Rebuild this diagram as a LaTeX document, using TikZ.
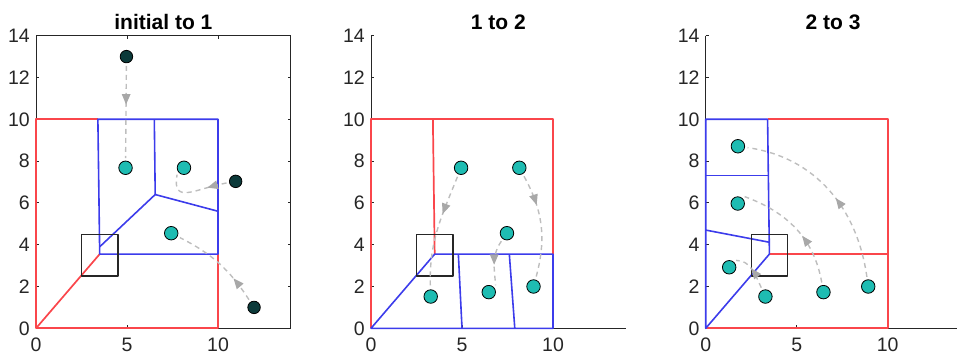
\documentclass[tikz,border=0pt]{standalone}
\usepackage{fontspec}
\setmainfont{Liberation Sans}
\usetikzlibrary{arrows.meta,decorations.markings}
\definecolor{axgray}{RGB}{38,38,38}
\definecolor{cellred}{RGB}{250,70,75}
\definecolor{cellblue}{RGB}{60,60,235}
\definecolor{dotcyan}{RGB}{30,188,178}
\definecolor{dotdark}{RGB}{12,58,58}
\definecolor{trailgray}{RGB}{190,190,190}
\definecolor{headgray}{RGB}{168,168,168}

\begin{document}
\begin{tikzpicture}[x=1pt,y=1pt,line join=round,
  ticklab/.style={font=\fontsize{19.5}{22}\selectfont,text=axgray,inner sep=0pt},
  ttl/.style={font=\fontsize{21}{24}\selectfont\bfseries,anchor=base,inner sep=0pt},
  axline/.style={axgray,line width=0.9pt},
  redcell/.style={cellred,line width=1.7pt},
  bluecell/.style={cellblue,line width=1.6pt},
  cellbox/.style={draw=axgray,line width=1.2pt},
  robot/.style={circle,draw=black,fill=dotcyan,inner sep=0pt,minimum size=13.5pt,line width=0.8pt,outer sep=3pt},
  initpos/.style={circle,draw=black,fill=dotdark,inner sep=0pt,minimum size=12.5pt,line width=0.8pt,outer sep=3pt},
  trail/.style={trailgray,line width=1.4pt,dash pattern=on 5pt off 4pt,postaction={decorate},
    decoration={markings,mark=at position #1 with {\arrow[headgray]{Triangle[length=10.5pt,width=8.5pt]}}}},
  trail/.default=0.4]
\useasboundingbox (0,0) rectangle (957,356);
% panel 1
\begin{scope}[shift={(36pt,27.7pt)},x=18.2pt,y=20.9pt]
\node[ttl] (t1) at (7,14.31) {initial to 1};
\draw[axline] (0,0) rectangle (14,14);
\foreach \yy in {0,2,...,14} {
  \draw[axline] (0,\yy) -- (0.16,\yy);
  \draw[axline] (14,\yy) -- (13.84,\yy);
  \node[ticklab,anchor=east] (ya\yy) at (-0.33,\yy) {\yy};
}
\foreach \xx in {0,5,10} {
  \draw[axline] (\xx,0) -- (\xx,0.14);
  \draw[axline] (\xx,14) -- (\xx,13.86);
  \node[ticklab,anchor=north] (xa\xx) at (\xx,-0.46) {\xx};
}
\draw[redcell] (3.4,10) -- (0,10) -- (0,0) -- (10,0) -- (10,3.55);
\draw[redcell] (0,0) -- (3.5,3.55);
\draw[bluecell] (3.4,10) -- (10,10) -- (10,3.55) -- (3.5,3.55) -- cycle;
\draw[bluecell] (6.5,10) -- (6.55,6.4) -- (10,5.6);
\draw[bluecell] (6.55,6.4) -- (3.5,3.9);
\draw[cellbox] (2.5,2.5) rectangle (4.5,4.5);
\node[initpos] (s1) at (4.97,13) {};
\node[initpos] (s2) at (10.97,7.03) {};
\node[initpos] (s3) at (11.98,1) {};
\node[robot] (a1) at (4.92,7.68) {};
\node[robot] (b1) at (8.13,7.68) {};
\node[robot] (c1) at (7.43,4.55) {};
\draw[trail=0.42] (s1) to (a1);
\draw[trail=0.3] (s2) to[out=190,in=-100,looseness=1.6] (b1.south west);
\draw[trail=0.28] (s3) to[bend right=15] (c1);
\end{scope}
% panel 2
\begin{scope}[shift={(371pt,27.7pt)},x=18.2pt,y=20.9pt]
\node[ttl] (t2) at (7,14.31) {1 to 2};
\draw[axline] (0,14) -- (0,0) -- (14,0);
\foreach \yy in {0,2,...,14} {
  \draw[axline] (0,\yy) -- (0.16,\yy);
  \node[ticklab,anchor=east] (yb\yy) at (-0.33,\yy) {\yy};
}
\foreach \xx in {0,5,10} {
  \draw[axline] (\xx,0) -- (\xx,0.14);
  \node[ticklab,anchor=north] (xb\xx) at (\xx,-0.46) {\xx};
}
\draw[redcell] (0,0) -- (0,10) -- (10,10) -- (10,3.55);
\draw[redcell] (3.4,10) -- (3.5,3.55);
\draw[bluecell] (0,0) -- (10,0) -- (10,3.55) -- (3.5,3.55) -- cycle;
\draw[bluecell] (4.8,3.55) -- (5,0);
\draw[bluecell] (7.6,3.55) -- (7.9,0);
\draw[cellbox] (2.5,2.5) rectangle (4.5,4.5);
\node[robot] (a2) at (4.95,7.68) {};
\node[robot] (b2) at (8.15,7.68) {};
\node[robot] (c2) at (7.47,4.55) {};
\node[robot] (d2) at (3.28,1.52) {};
\node[robot] (e2) at (6.47,1.73) {};
\node[robot] (f2) at (8.93,2) {};
\draw[trail=0.35] (a2) to[out=-112,in=92] (d2);
\draw[trail=0.3] (b2) to[bend left=22] (f2);
\draw[trail=0.55] (c2) to[out=-125,in=95] (e2.north east);
\end{scope}
% panel 3
\begin{scope}[shift={(705.7pt,27.7pt)},x=18.2pt,y=20.9pt]
\node[ttl] (t3) at (7,14.31) {2 to 3};
\draw[axline] (0,14) -- (0,0) -- (14,0);
\foreach \yy in {0,2,...,14} {
  \draw[axline] (0,\yy) -- (0.16,\yy);
  \node[ticklab,anchor=east] (yc\yy) at (-0.33,\yy) {\yy};
}
\foreach \xx in {0,5,10} {
  \draw[axline] (\xx,0) -- (\xx,0.14);
  \node[ticklab,anchor=north] (xc\xx) at (\xx,-0.46) {\xx};
}
\draw[redcell] (3.4,10) -- (10,10) -- (10,0) -- (0,0);
\draw[redcell] (3.5,3.55) -- (10,3.55);
\draw[bluecell] (0,0) -- (3.5,3.55) -- (3.4,10) -- (0,10) -- cycle;
\draw[bluecell] (0,7.32) -- (3.45,7.32);
\draw[bluecell] (0,4.7) -- (3.48,4.12);
\draw[cellbox] (2.5,2.5) rectangle (4.5,4.5);
\node[robot] (g3) at (1.77,8.71) {};
\node[robot] (h3) at (1.76,5.97) {};
\node[robot] (k3) at (1.29,2.92) {};
\node[robot] (d3) at (3.28,1.52) {};
\node[robot] (e3) at (6.47,1.73) {};
\node[robot] (f3) at (8.93,2) {};
\draw[trail=0.45] (f3) to[out=98,in=-8] (g3);
\draw[trail=0.42] (e3) to[out=100,in=-20] (h3.north east);
\draw[trail=0.55] (d3) to[out=115,in=0] (k3.north east);
\end{scope}
\end{tikzpicture}
\end{document}
